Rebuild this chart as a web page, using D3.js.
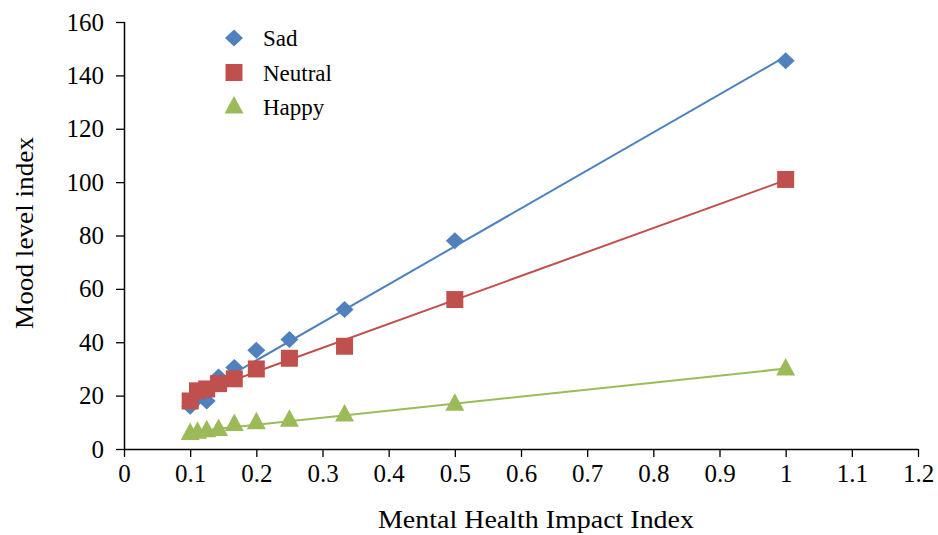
<!DOCTYPE html>
<html><head><meta charset="utf-8">
<script src="https://cdn.jsdelivr.net/npm/d3@7"></script>
<style>body{margin:0;background:#fff}svg{display:block}text{font-family:"Liberation Serif","Times New Roman",serif;fill:#000}</style>
</head><body>
<svg id="c" width="938" height="535"></svg>
<script>
const xValues = [1, 0.5, 0.3333, 0.25, 0.2, 0.1667, 0.1429, 0.125, 0.1111, 0.1];
const sadValues = [145.5, 78, 52.3, 41, 37, 30.5, 27, 18, 19, 16];
const neutralValues = [101, 56, 38.5, 34, 30, 26.3, 24.5, 22.5, 21.8, 18];
const happyValues = [30, 16.8, 12.7, 10.8, 9.8, 9.2, 7.3, 6.8, 6.3, 5.8];
const seriesNames = ["Sad", "Neutral", "Happy"];
const seriesColors = ["#4F81BD", "#C0504D", "#9BBB59"];
const xTicks = [0,0.1,0.2,0.3,0.4,0.5,0.6,0.7,0.8,0.9,1,1.1,1.2];
const yTicks = [0,20,40,60,80,100,120,140,160];

const svg = d3.select("#c");
const x = d3.scaleLinear().domain([0,1.2]).range([124,918]);
const y = d3.scaleLinear().domain([0,160]).range([449,22]);

const series = [sadValues, neutralValues, happyValues].map((vals,i)=>({name:seriesNames[i], color:seriesColors[i], pts: xValues.map((xv,j)=>({x:xv,y:vals[j]}))}));

function fit(pts){
  const mx=d3.mean(pts,p=>p.x), my=d3.mean(pts,p=>p.y);
  let sxy=0,sxx=0; pts.forEach(p=>{sxy+=(p.x-mx)*(p.y-my); sxx+=(p.x-mx)**2;});
  const b=sxy/sxx, a=my-b*mx; return [a,b];
}

// axes
const xAxis = d3.axisBottom(x).tickValues(xTicks).tickFormat(d=>String(+d.toFixed(1))).tickSize(8).tickPadding(16);
const gx = svg.append("g").attr("transform","translate(0,449)").call(xAxis);
const yAxis = d3.axisLeft(y).tickValues(yTicks).tickSize(8).tickPadding(12);
const gy = svg.append("g").attr("transform","translate(124,0)").call(yAxis);
[gx,gy].forEach(g=>{
  g.attr("font-size",25).attr("font-family","Liberation Serif, serif");
  g.select(".domain").attr("stroke","#000").attr("stroke-width",1.5);
  g.selectAll(".tick line").attr("stroke","#000").attr("stroke-width",1.3);
  g.selectAll("text").style("font-family","Liberation Serif, serif").style("font-size","25px").attr("fill","#000");
});
gx.selectAll(".tick text").attr("dy","0.35em");
gy.selectAll(".tick text").attr("dy","0.32em");
gx.select(".domain").attr("d","M124,0.5H918");
gy.select(".domain").attr("d","M0.5,22V449");

// trend lines
series.forEach(s=>{
  const [a,b]=fit(s.pts);
  const x0=d3.min(xValues), x1=d3.max(xValues);
  svg.append("line").attr("x1",x(x0)).attr("y1",y(a+b*x0)).attr("x2",x(x1)).attr("y2",y(a+b*x1))
    .attr("stroke",s.color).attr("stroke-width",2);
});

const shapePaths=[
  "M0,-8.5L9,0L0,8.5L-9,0Z",
  "M-8.5,-8.5H8.5V8.5H-8.5Z",
  "M0,-11L9.5,6.5L-9.5,6.5Z"
];
function marker(g, i, cx, cy){
  g.append("path").attr("d", shapePaths[i])
   .attr("transform",`translate(${cx},${cy})`).attr("fill",seriesColors[i]);
}
[2,0,1].forEach(i=>{
  series[i].pts.forEach(p=>marker(svg,i,x(p.x),y(p.y)));
});

// legend
seriesNames.forEach((n,i)=>{
  const cy=38+i*34.5;
  marker(svg,i,234,cy);
  svg.append("text").attr("x",263).attr("y",cy+8).style("font-size","23px").text(n);
});

// titles
svg.append("text").attr("x",536).attr("y",528).attr("text-anchor","middle").style("font-size","26px")
  .attr("textLength",316).attr("lengthAdjust","spacingAndGlyphs").text("Mental Health Impact Index");
svg.append("text").attr("transform","translate(33,233) rotate(-90)").attr("text-anchor","middle").style("font-size","26px")
  .attr("textLength",192).attr("lengthAdjust","spacingAndGlyphs").text("Mood level index");
</script>
</body></html>
